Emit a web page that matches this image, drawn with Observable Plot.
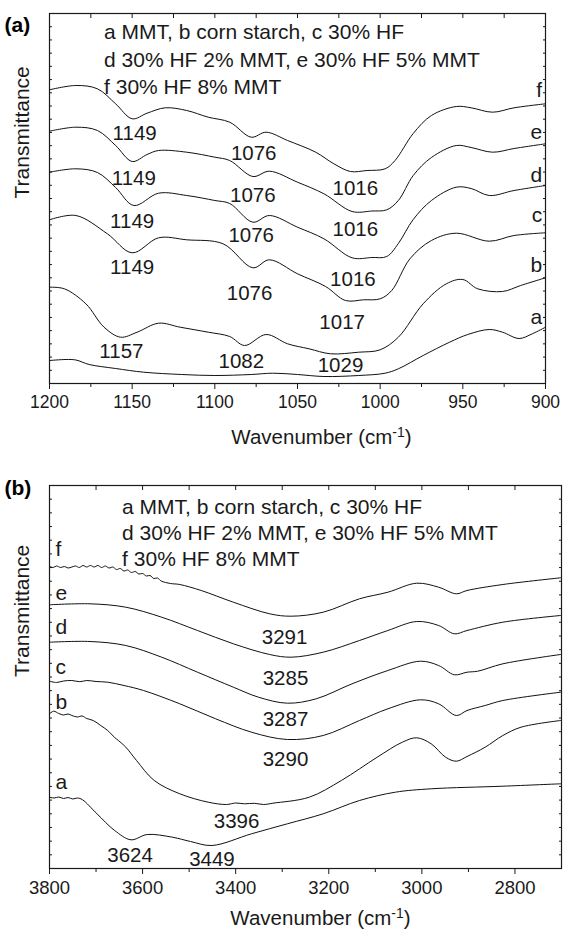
<!DOCTYPE html>
<html><head><meta charset="utf-8">
<script src="https://cdn.jsdelivr.net/npm/d3@7"></script>
<script src="https://cdn.jsdelivr.net/npm/@observablehq/plot@0.6"></script>
<style>body{margin:0;background:#fff} svg{display:block}</style>
</head><body><div id="chart"></div>
<script>
// ---------- DATA ----------
const seriesNames = ["a", "b", "c", "d", "e", "f"];
const legendLines = [
  "a MMT, b corn starch, c 30% HF",
  "d 30% HF 2% MMT, e 30% HF 5% MMT",
  "f 30% HF 8% MMT"
];
// Panel (a): [wavenumber cm-1, transmittance (a.u., offset)]
const specA_a = [[1200,23],[1190,24],[1184,23.5],[1176,19],[1160,15],[1143,11.3],[1120,9],[1100,8],[1078,9],[1065,10.3],[1050,9],[1034,7],[1013,8],[997,10.3],[989,14.7],[974,28],[958,41.3],[947,49],[934,54],[926,51.3],[916,45],[908,49.7],[900,56.3]];
const specA_b = [[1200,96.3],[1191,94.7],[1178,79.7],[1167,56.3],[1157,46.3],[1147,51.3],[1134,60.3],[1121,56.3],[1104,51.3],[1091,47],[1082,38],[1069,49],[1056,39.7],[1043,34.7],[1030,29.7],[1013,31.3],[1000,33.7],[989,46.3],[974,79.7],[960,99.7],[950,104],[941,94.7],[926,92],[915,98],[900,105.7]];
const specA_c = [[1200,163.7],[1184,168],[1165,149.7],[1150,130.7],[1134,145.7],[1117,143.7],[1095,139.7],[1077,115.7],[1067,123.7],[1050,109.7],[1033,97],[1021,83],[1010,83.7],[1000,84.7],[993,93],[982,124.7],[969,143],[954,150.3],[934,142.3],[919,148],[900,150.7]];
const specA_d = [[1200,211.3],[1184,214.7],[1171,211],[1160,196],[1149,178],[1134,190.3],[1117,188],[1100,183],[1091,180],[1077,161.3],[1067,168],[1050,156.3],[1034,144.7],[1017,125.7],[1005,126],[996,127],[989,140],[980,164],[969,183],[954,196.3],[945,195],[934,188],[919,193],[900,198]];
const specA_e = [[1200,252.3],[1184,256.3],[1171,253],[1160,238],[1150,222],[1141,229],[1134,233],[1117,231.3],[1100,226.3],[1091,223],[1077,207],[1067,212.3],[1050,201.3],[1034,189.7],[1017,172],[1005,172.5],[996,173.7],[989,183],[980,208],[969,226],[954,238],[945,236],[932,231.3],[919,235],[900,239.7]];
const specA_f = [[1200,293.7],[1184,298],[1171,294.7],[1160,279.7],[1150,264.7],[1141,270.3],[1130,275.7],[1117,273],[1104,266.3],[1091,261.3],[1078,246.3],[1069,251.3],[1056,243],[1039,231.3],[1028,219.7],[1018,212],[1008,213],[997,214.7],[991,223],[980,250],[969,268],[954,277],[945,275.7],[932,271.3],[919,275.7],[900,279.7]];
const peakTextA = ["1149","1076","1016","1149","1076","1016","1149","1076","1016","1149","1076","1017","1157","1082","1029"];
const peakWnA   = [1148.5,1076.5,1015,1149,1077,1015,1150,1078,1016.5,1150,1079,1023,1156.5,1084,1024];
const peakTA    = [250,230,195,205,188,154,162,148,104,116,90,61,32,22,18];
const letterTA  = [66,118,168,208,251,293];
const ticksA = [1200,1150,1100,1050,1000,950,900];
const minorA = [1175,1125,1075,1025,975,925];

// Panel (b)
const specB_a = [[3800,71.3],[3790,70.5],[3780,71.5],[3770,70],[3760,71],[3750,69.5],[3740,70.5],[3729,68.7],[3698,54.7],[3660,38],[3625,28.7],[3590,34],[3536,31.3],[3497,27],[3451,23],[3366,34.7],[3289,44.7],[3212,54.7],[3134,68],[3057,76.3],[2980,79.7],[2826,82.3],[2702,84.7]];
const specB_b = [[3800,154.7],[3791,157.3],[3780,155],[3770,153.5],[3760,154.5],[3752,153],[3740,151.5],[3730,152.5],[3720,150],[3706,148],[3690,143],[3675,138],[3660,131],[3652,128],[3636,121.3],[3613,108],[3575,88],[3520,74.7],[3459,66.3],[3420,64],[3400,65.5],[3381,64.7],[3360,65.2],[3340,64],[3320,65.3],[3242,71.3],[3173,88],[3096,111.3],[3042,126.3],[3011,130.7],[2980,124.7],[2949,111.3],[2926,107.3],[2903,112],[2864,121.3],[2826,133],[2787,141.3],[2702,148]];
const specB_c = [[3800,187.3],[3785,186],[3770,187.5],[3752,188],[3735,186.8],[3720,188],[3700,187],[3675,186.3],[3640,183],[3598,178],[3520,164.7],[3443,149.7],[3366,136.3],[3289,129],[3212,133],[3134,148],[3073,159.7],[3003,168.7],[2964,164.7],[2926,153],[2903,158],[2864,163],[2826,168],[2702,176.3]];
const specB_d = [[3800,226.3],[3713,227],[3636,223],[3559,211.3],[3482,196.3],[3405,181.3],[3351,171.3],[3289,165.3],[3227,169.7],[3150,184.7],[3073,198],[3003,207.3],[2964,203],[2930,193.7],[2903,196.3],[2880,197.3],[2826,204.7],[2702,214]];
const specB_e = [[3800,263.7],[3713,264.7],[3636,261.3],[3559,251.3],[3482,238],[3405,224.7],[3327,214],[3281,211.3],[3212,216.3],[3134,228],[3073,238],[3011,247],[2964,243],[2930,234.7],[2903,238],[2826,246.3],[2702,253]];
const specB_f = [[3800,302],[3792,301],[3785,302.5],[3776,301],[3768,302],[3760,300.5],[3752,301.5],[3744,302.5],[3736,301],[3728,303],[3720,301.5],[3712,303],[3704,301.5],[3696,303],[3688,301],[3680,302.5],[3672,300.5],[3664,301.5],[3656,299],[3648,300],[3640,297.5],[3632,298.5],[3624,296],[3616,297],[3608,294.5],[3600,295],[3592,292.5],[3584,293],[3576,290],[3568,290.5],[3560,287.5],[3540,285],[3520,284],[3474,278],[3405,266.3],[3327,254.7],[3281,252.3],[3212,256.3],[3134,269.7],[3073,276.3],[3011,285.3],[2964,281.3],[2926,274.7],[2903,278],[2826,284],[2702,290.7]];
const peakTextB = ["3291","3285","3287","3290","3396","3624","3449"];
const peakWnB   = [3295,3293,3293,3293,3398,3627,3451];
const peakTB    = [231,190,149,109,47,13,9];
const letterTB  = [86,166,201,241,275,319];
const ticksB = [3800,3600,3400,3200,3000,2800];
const minorB = [3700,3500,3300,3100,2900];

// ---------- DRAW ----------
function rows(list) {
  return list.flatMap((arr, i) => arr.map(([wn, t]) => ({wn, t, s: seriesNames[i]})));
}
const font = "'Liberation Sans', Arial, Helvetica, sans-serif";
const ink = "#1a1a1a";

function panel(o) {
  const yd = o.yDomain;
  const yTicks = d3.range(1, 28).map(k => yd[0] + k * (yd[1] - yd[0]) / 28);
  const peaks = o.peakText.map((t, i) => ({t, wn: o.peakWn[i], y: o.peakT[i]}));
  const letters = seriesNames.map((s, i) => ({s, y: o.letterT[i]}));
  const legend = legendLines.map((t, i) => ({t, i}));
  const svg = Plot.plot({
    width: 563, height: o.height,
    marginTop: o.mt, marginBottom: o.mb, marginLeft: 49, marginRight: o.mr,
    style: {fontFamily: font, background: "#fff", color: ink},
    x: {domain: o.xDomain},
    y: {domain: yd},
    marks: [
      Plot.axisX(o.ticks, {anchor: "bottom", tickSize: 6, tickPadding: 6, fontSize: o.tickFont, tickFormat: d => String(d), label: null, stroke: ink}),
      Plot.axisX(o.minor, {anchor: "bottom", tickSize: 4, tickFormat: () => "", label: null, stroke: ink}),
      Plot.axisX(o.ticks.concat(o.minor), {anchor: "top", tickSize: -4, tickFormat: () => "", label: null, stroke: ink}),
      Plot.axisY(yTicks, {anchor: "left", tickSize: -3, tickFormat: () => "", label: null, stroke: ink}),
      Plot.axisY(yTicks, {anchor: "right", tickSize: -3, tickFormat: () => "", label: null, stroke: ink}),
      Plot.frame({stroke: ink, strokeWidth: 1.2}),
      Plot.line(rows(o.spectra), {x: "wn", y: "t", z: "s", curve: "catmull-rom", stroke: "#111", strokeWidth: 1}),
      Plot.text(peaks, {x: "wn", y: "y", text: "t", fontSize: 20.5, fill: ink}),
      Plot.text(letters, {x: () => o.letterWn, y: "y", text: "s", fontSize: 21, fill: ink, textAnchor: o.letterAnchor}),
      Plot.text(legend, {x: () => o.legendWn, y: d => o.legendT0 - d.i * o.legendStep, text: "t", fontSize: 21, fill: ink, textAnchor: "start"}),
      Plot.text([o.tag], {frameAnchor: "top-left", dx: -45, dy: o.tagDy, textAnchor: "start", lineAnchor: "middle", fontSize: 21, fontWeight: "bold", fill: "#000"}),
      Plot.text(["Transmittance"], {frameAnchor: "left", dx: -27, rotate: -90, fontSize: 21, fill: ink, lineAnchor: "middle"}),
      Plot.text(["Wavenumber (cm-1)"], {frameAnchor: "bottom", dx: o.xlabDx, dy: o.xlabDy, fontSize: 20.5, fill: ink, lineAnchor: "middle"})
    ]
  });
  d3.select(svg).selectAll("text").filter(function() { return this.textContent === "Wavenumber (cm-1)"; })
    .each(function() {
      const t = d3.select(this);
      t.text("Wavenumber (cm");
      t.append("tspan").attr("dy", -7).attr("font-size", 14).text("-1");
      t.append("tspan").attr("dy", 7).text(")");
    });
  return svg;
}

const root = document.getElementById("chart");
root.append(panel({
  height: 460, mt: 13, mb: 77, mr: 18,
  xDomain: [1200, 900], yDomain: [0, 370],
  spectra: [specA_a, specA_b, specA_c, specA_d, specA_e, specA_f],
  peakText: peakTextA, peakWn: peakWnA, peakT: peakTA,
  letterT: letterTA, letterWn: 902, letterAnchor: "end",
  legendWn: 1167, legendT0: 351, legendStep: 27.5,
  ticks: ticksA, minor: minorA, tickFont: 17.5, tag: "(a)", tagDy: 12,
  xlabDx: 24, xlabDy: 54
}));
root.append(panel({
  height: 477, mt: 25, mb: 69, mr: 2,
  xDomain: [3800, 2700], yDomain: [0, 383],
  spectra: [specB_a, specB_b, specB_c, specB_d, specB_e, specB_f],
  peakText: peakTextB, peakWn: peakWnB, peakT: peakTB,
  letterT: letterTB, letterWn: 3787, letterAnchor: "start",
  legendWn: 3644, legendT0: 361, legendStep: 26,
  ticks: ticksB, minor: minorB, tickFont: 18.5, tag: "(b)", tagDy: 3,
  xlabDx: 15, xlabDy: 50
}));
</script></body></html>
